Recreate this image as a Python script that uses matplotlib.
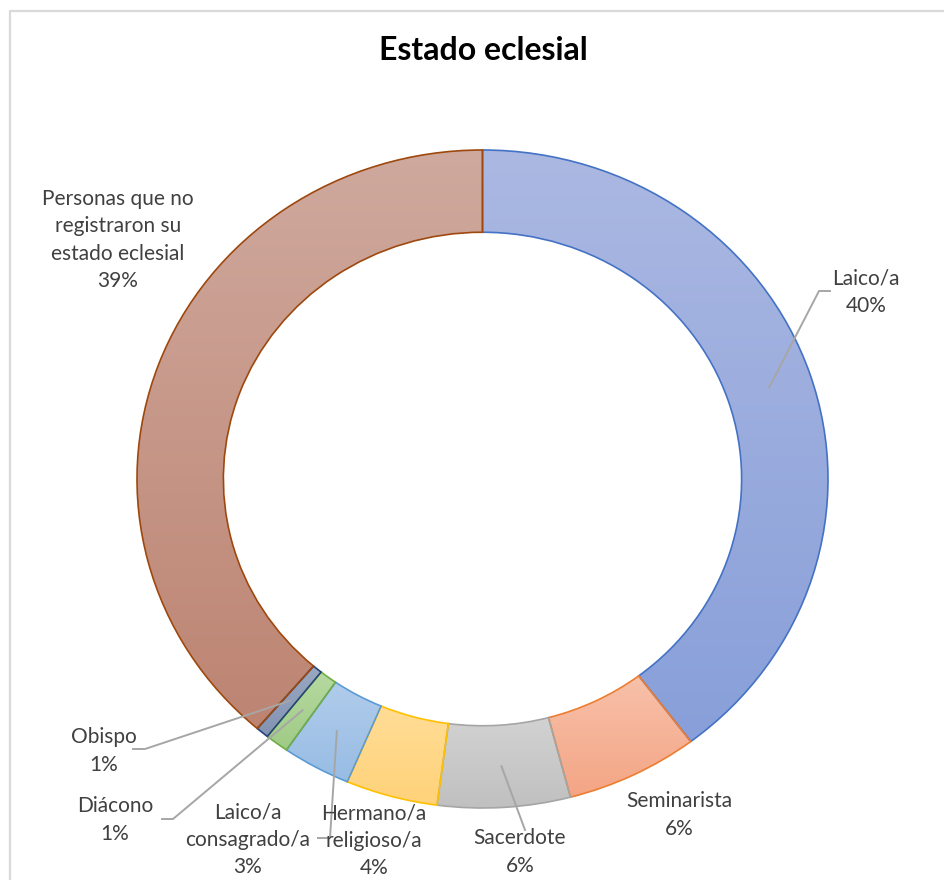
import numpy as np
import matplotlib.pyplot as plt
from matplotlib.colors import LinearSegmentedColormap
from matplotlib.lines import Line2D

plt.rcParams['font.family'] = ['Lato', 'DejaVu Sans']

# data (percent of respondents, clockwise from 12 o'clock)
categories = ["Laico/a", "Seminarista", "Sacerdote", "Hermano/a\nreligioso/a",
              "Laico/a\nconsagrado/a", "Diácono", "Obispo",
              "Personas que no\nregistraron su\nestado eclesial"]
values = [39.7, 6.2, 6.2, 4.3, 3.2, 1.1, 0.6, 38.7]

# colours: gradient top, gradient bottom, outline
tops = ['#abb8e2', '#f7c1aa', '#d2d2d2', '#ffdd96', '#b1cceb', '#b6d9a0', '#9aa8c2', '#cfa99e']
bottoms = ['#889fd9', '#f4a585', '#c0c0c0', '#ffd27a', '#97bce4', '#9fcb85', '#8393b3', '#bd8472']
edges = ['#4472c4', '#ed7d31', '#a5a5a5', '#ffc000', '#5b9bd5', '#70ad47', '#264478', '#9e480e']

W, H = 944, 880
CX, CY, RX, RY = 482.5, 479, 345.5, 329


def px(x, y):
    # pixel position -> data coords of the pie axes
    return (x - CX) / RX, (CY - y) / RY


label_pos = [(866, 292), (679, 815), (520, 852), (374, 841),
             (248, 840), (115, 820), (104, 751), (118, 240)]
leaders = {0: [(819, 291), (830, 291)],
           2: [(525, 830)],
           4: [(330, 838), (318, 838)],
           5: [(173, 819), (162, 819)],
           6: [(145, 749), (133, 749)]}

fig = plt.figure(figsize=(W / 100, H / 100), dpi=100)
ax = fig.add_axes([(CX - RX) / W, (H - CY - RY) / H, 2 * RX / W, 2 * RY / H])

wedges, _ = ax.pie(values, startangle=90, counterclock=False, radius=1,
                   wedgeprops=dict(width=0.25, linewidth=1.2))

grad = np.linspace(0, 1, 256).reshape(-1, 1)
for w, top, bot, ec in zip(wedges, tops, bottoms, edges):
    w.set_facecolor('none')
    w.set_edgecolor(ec)
    w.set_zorder(3)
    ext = w.get_path().get_extents()
    cmap = LinearSegmentedColormap.from_list('g', [bot, top])
    im = ax.imshow(grad, cmap=cmap, origin='lower', aspect='auto',
                   extent=[ext.x0, ext.x1, ext.y0, ext.y1], zorder=2)
    im.set_clip_path(w)

ax.set_xlim(-1, 1)
ax.set_ylim(-1, 1)
ax.set_aspect('auto')
ax.axis('off')

# labels and leader lines
for i, (w, name, v) in enumerate(zip(wedges, categories, values)):
    x, y = px(*label_pos[i])
    ax.text(x, y, f"{name}\n{v:.0f}%", ha='center', va='center', fontsize=15,
            color='#404040', linespacing=1.45, zorder=5, clip_on=False)
    if i in leaders:
        mid = np.deg2rad((w.theta1 + w.theta2) / 2)
        pts = [(0.875 * np.cos(mid), 0.875 * np.sin(mid))] + [px(*p) for p in leaders[i]]
        xs, ys = zip(*pts)
        ax.plot(xs, ys, color='#a6a6a6', lw=1.4, zorder=4, clip_on=False)

fig.text(483 / W, 1 - 50 / H, "Estado eclesial", ha='center', va='center',
         fontsize=23, fontweight='bold', color='black')

# chart area frame (left and top edge visible)
fig.add_artist(Line2D([10 / W, 10 / W, 1], [0, 1 - 11 / H, 1 - 11 / H],
                      transform=fig.transFigure, color='#d9d9d9', lw=1.6))

fig.savefig('out.png', dpi=100)
